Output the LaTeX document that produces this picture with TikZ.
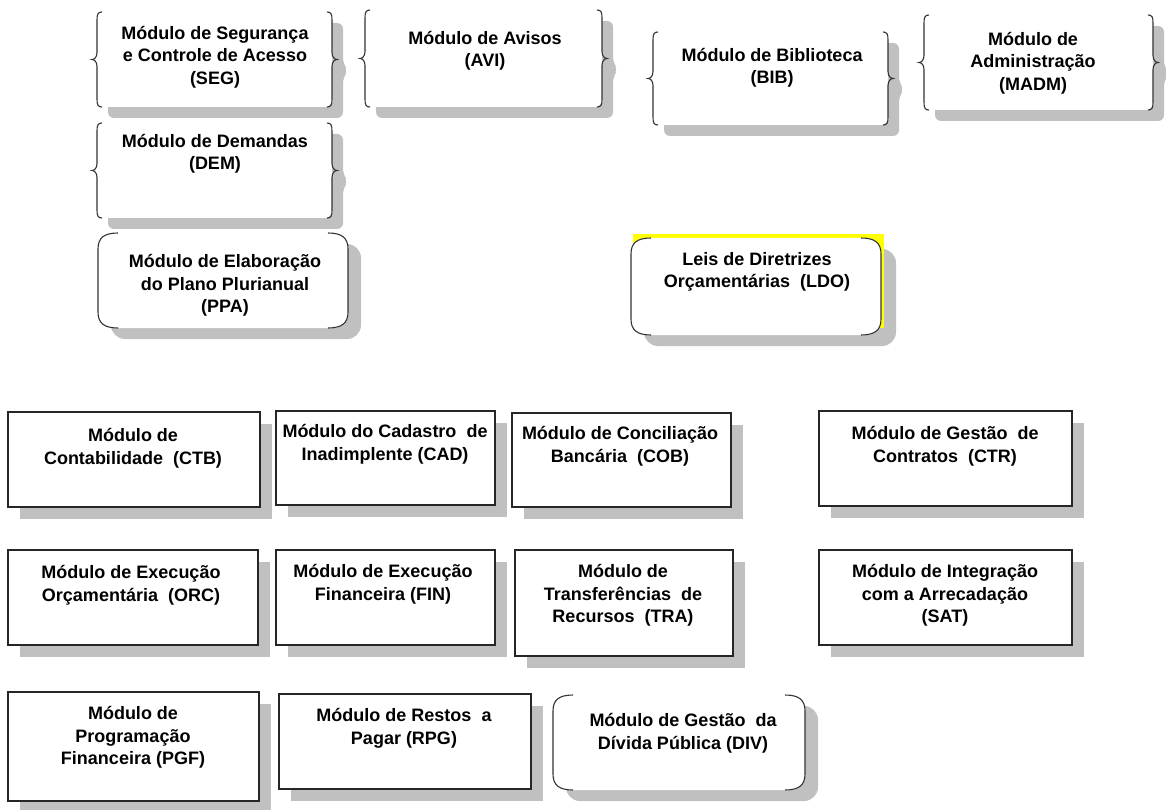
\documentclass[tikz,border=0pt]{standalone}
\usepackage{fontspec}
\setmainfont{Liberation Sans}
\definecolor{shadowgray}{RGB}{192,192,192}
\definecolor{hiyellow}{RGB}{255,255,0}
\tikzset{
  lbl/.style={anchor=north, align=center, inner sep=0pt, font=\fontsize{18}{22.6}\selectfont\bfseries},
  boxline/.style={draw=black!85, line width=1.3pt},
  braceline/.style={draw=black!80, line width=1.1pt},
}
\newcommand\RectBox[4]{%
  \fill[shadowgray] (#1+12,#2+12) rectangle (#3+12,#4+12);
  \filldraw[fill=white, boxline] (#1,#2) rectangle (#3,#4);
}
\newcommand\RoundBox[4]{%
  \fill[shadowgray, rounded corners=14pt] (#1+13,#2+11) rectangle (#3+13,#4+11);
  \fill[white, rounded corners=14pt] (#1,#2) rectangle (#3,#4);
  \draw[braceline] (#1+20,#2) .. controls (#1+6,#2) and (#1,#2+5) .. (#1,#2+16) -- (#1,#4-16) .. controls (#1,#4-5) and (#1+6,#4) .. (#1+20,#4);
  \draw[braceline] (#3-20,#2) .. controls (#3-6,#2) and (#3,#2+5) .. (#3,#2+16) -- (#3,#4-16) .. controls (#3,#4-5) and (#3-6,#4) .. (#3-20,#4);
}
\newcommand\BraceBox[4]{%
  \pgfmathsetmacro\ym{(#2+#4)/2}%
  \begin{scope}[shift={(11,11)}]
    \fill[shadowgray, rounded corners=6pt] (#1+10,#2) -- (#1+5,#2) -- (#1+5,#4) -- (#3-5,#4) -- (#3-5,\ym+7) -- (#3,\ym) -- (#3-5,\ym-7) -- (#3-5,#2) -- cycle;
  \end{scope}
  \fill[white] (#1+10,#2) -- (#1+5,#2+4) -- (#1+5,#4-4) -- (#1+10,#4) -- (#3-10,#4) -- (#3-5,#4-4) -- (#3-5,#2+4) -- (#3-10,#2) -- cycle;
  \draw[braceline] (#1+10,#2) .. controls (#1+6,#2) and (#1+5,#2+2) .. (#1+5,#2+8) -- (#1+5,\ym-7) .. controls (#1+5,\ym-2) and (#1+2,\ym) .. (#1,\ym) .. controls (#1+2,\ym) and (#1+5,\ym+2) .. (#1+5,\ym+7) -- (#1+5,#4-8) .. controls (#1+5,#4-2) and (#1+6,#4) .. (#1+10,#4);
  \draw[braceline] (#3-10,#2) .. controls (#3-6,#2) and (#3-5,#2+2) .. (#3-5,#2+8) -- (#3-5,\ym-7) .. controls (#3-5,\ym-2) and (#3-2,\ym) .. (#3,\ym) .. controls (#3-2,\ym) and (#3-5,\ym+2) .. (#3-5,\ym+7) -- (#3-5,#4-8) .. controls (#3-5,#4-2) and (#3-6,#4) .. (#3-10,#4);
}
\begin{document}
\begin{tikzpicture}[x=1pt,y=-1pt]
\useasboundingbox[fill=white] (0,0) rectangle (1166,810);

% top row: brace shapes
\BraceBox{92}{12}{337}{107}
\BraceBox{360}{10}{607}{107}
\BraceBox{648}{32}{893}{125}
\BraceBox{919}{15}{1158}{110}
\BraceBox{92}{123}{337}{218}

% rounded shapes
\RoundBox{98}{233}{348}{328}
\fill[shadowgray, rounded corners=14pt] (644,249) rectangle (896,346);
\fill[hiyellow] (633,234) rectangle (884,328);
\fill[white, rounded corners=14pt] (631,238) rectangle (881,335);
\draw[braceline] (651,238) .. controls (637,238) and (631,243) .. (631,254) -- (631,319) .. controls (631,330) and (637,335) .. (651,335);
\draw[braceline] (861,238) .. controls (875,238) and (881,243) .. (881,254) -- (881,319) .. controls (881,330) and (875,335) .. (861,335);

% rectangles
\RectBox{8}{412}{260}{507}
\RectBox{276}{411}{495}{505}
\RectBox{512}{413}{731}{507}
\RectBox{819}{411}{1072}{506}
\RectBox{8}{550}{258}{645}
\RectBox{276}{550}{495}{645}
\RectBox{515}{550}{733}{656}
\RectBox{819}{550}{1072}{645}
\RectBox{8}{692}{259}{801}
\RectBox{279}{694}{531}{789}
\RoundBox{553}{695}{805}{790}

% labels
\node[lbl] (seg) at (215,26) {Módulo de Segurança\\e Controle de Acesso\\(SEG)};
\node[lbl] (avi) at (485,31) {Módulo de Avisos\\(AVI)};
\node[lbl] (bib) at (772,48) {Módulo de Biblioteca\\(BIB)};
\node[lbl] (madm) at (1033,32) {Módulo de\\Administração\\(MADM)};
\node[lbl] (dem) at (215,134) {Módulo de Demandas\\(DEM)};
\node[lbl] (ppa) at (225,254) {Módulo de Elaboração\\do Plano Plurianual\\(PPA)};
\node[lbl] (ldo) at (757,252) {Leis de Diretrizes\\Orçamentárias~ (LDO)};
\node[lbl] (ctb) at (133,428) {Módulo de\\Contabilidade~ (CTB)};
\node[lbl] (cad) at (385,424) {Módulo do Cadastro~ de\\Inadimplente (CAD)};
\node[lbl] (cob) at (620,426) {Módulo de Conciliação\\Bancária~ (COB)};
\node[lbl] (ctr) at (945,426) {Módulo de Gestão~ de\\Contratos~ (CTR)};
\node[lbl] (orc) at (131,565) {Módulo de Execução\\Orçamentária~ (ORC)};
\node[lbl] (fin) at (383,564) {Módulo de Execução\\Financeira (FIN)};
\node[lbl] (tra) at (623,564) {Módulo de\\Transferências~ de\\Recursos~ (TRA)};
\node[lbl] (sat) at (945,564) {Módulo de Integração\\com a Arrecadação\\(SAT)};
\node[lbl] (pgf) at (133,706) {Módulo de\\Programação\\Financeira (PGF)};
\node[lbl] (rpg) at (404,708) {Módulo de Restos~ a\\Pagar (RPG)};
\node[lbl] (div) at (683,713) {Módulo de Gestão~ da\\Dívida Pública (DIV)};
\end{tikzpicture}
\end{document}
